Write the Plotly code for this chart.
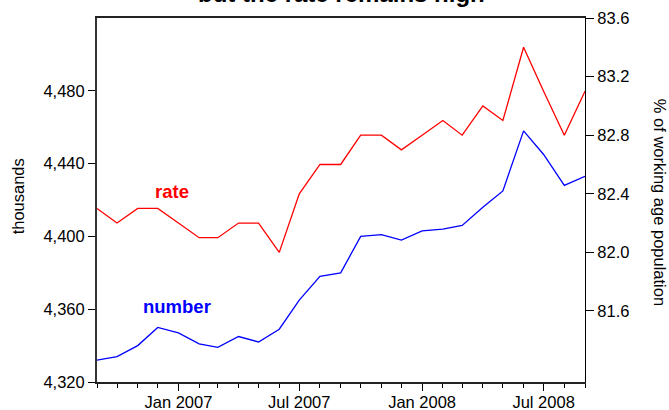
import plotly.graph_objects as go

months = ["2006-09-01", "2006-10-01", "2006-11-01", "2006-12-01", "2007-01-01",
          "2007-02-01", "2007-03-01", "2007-04-01", "2007-05-01", "2007-06-01",
          "2007-07-01", "2007-08-01", "2007-09-01", "2007-10-01", "2007-11-01",
          "2007-12-01", "2008-01-01", "2008-02-01", "2008-03-01", "2008-04-01",
          "2008-05-01", "2008-06-01", "2008-07-01", "2008-08-01", "2008-09-01"]

number = [4332, 4334, 4340, 4350, 4347, 4341, 4339, 4345, 4342, 4349,
          4365, 4378, 4380, 4400, 4401, 4398, 4403, 4404, 4406, 4416,
          4425, 4458, 4445, 4428, 4433]

rate = [82.3, 82.2, 82.3, 82.3, 82.2, 82.1, 82.1, 82.2, 82.2, 82.0,
        82.4, 82.6, 82.6, 82.8, 82.8, 82.7, 82.8, 82.9, 82.8, 83.0,
        82.9, 83.4, 83.1, 82.8, 83.1]

left_ticks = [4320, 4360, 4400, 4440, 4480]
right_ticks = [81.6, 82.0, 82.4, 82.8, 83.2, 83.6]

title_text = "but the rate remains high"
left_title = "thousands"
right_title = "% of working age population"

FONT = "Liberation Sans, Arial, sans-serif"

fig = go.Figure()
fig.add_trace(go.Scatter(x=months, y=number, mode="lines", name="number",
                         line=dict(color="#0000FF", width=1.3), yaxis="y"))
fig.add_trace(go.Scatter(x=months, y=rate, mode="lines", name="rate",
                         line=dict(color="#FF0000", width=1.3), yaxis="y2"))

fig.update_layout(
    width=669, height=410,
    margin=dict(l=97, r=84, t=18, b=28, autoexpand=False),
    paper_bgcolor="white", plot_bgcolor="white",
    showlegend=False,
    font=dict(family=FONT, size=16.5, color="black"),
    xaxis=dict(
        type="date", range=["2006-09-01", "2008-09-01"], automargin=False,
        tick0="2007-01-01", dtick="M6", tickformat="%b %Y",
        ticks="outside", ticklen=7, tickwidth=1, tickcolor="black",
        ticklabelstandoff=-3,
        showline=True, linecolor="#222", linewidth=2, mirror=True,
        showgrid=False, zeroline=False,
        minor=dict(dtick="M1", tick0="2006-09-01", ticks="outside", ticklen=4,
                   tickcolor="black", showgrid=False),
        tickfont=dict(size=16.5),
    ),
    yaxis=dict(
        range=[4320, 4520], automargin=False,
        tickmode="array", tickvals=left_ticks, tickformat=",d",
        ticks="outside", ticklen=7, tickcolor="black",
        showline=True, linecolor="#333", linewidth=2,
        showgrid=False, zeroline=False,
    ),
    yaxis2=dict(
        overlaying="y", side="right", automargin=False,
        range=[81.115, 83.6],
        tickmode="array", tickvals=right_ticks, tickformat=".1f",
        ticks="outside", ticklen=8, tickcolor="black",
        showline=True, linecolor="black", linewidth=1,
        showgrid=False, zeroline=False,
    ),
    annotations=[
        dict(text="<b>" + title_text + "</b>", xref="paper", yref="paper",
             x=0.502, y=1, xanchor="center", yanchor="bottom", yshift=9,
             showarrow=False, font=dict(size=24, color="black")),
        dict(text=left_title, xref="paper", yref="paper",
             x=0, y=0.51, xanchor="center", yanchor="middle", xshift=-79,
             textangle=-90, showarrow=False, font=dict(size=16.5)),
        dict(text=right_title, xref="paper", yref="paper",
             x=1, y=0.495, xanchor="center", yanchor="middle", xshift=75,
             textangle=90, showarrow=False, font=dict(size=16.5)),
        dict(text="<b>rate</b>", xref="paper", yref="paper",
             x=0.153, y=0.523, xanchor="center", yanchor="middle",
             showarrow=False, font=dict(size=18.5, color="#FF0000")),
        dict(text="<b>number</b>", xref="paper", yref="paper",
             x=0.163, y=0.207, xanchor="center", yanchor="middle",
             showarrow=False, font=dict(size=18.5, color="#0000FF")),
    ],
)

fig.write_html("out.html", config={"displayModeBar": False},
               post_script="document.body.style.margin='0';document.body.style.overflow='hidden';")
